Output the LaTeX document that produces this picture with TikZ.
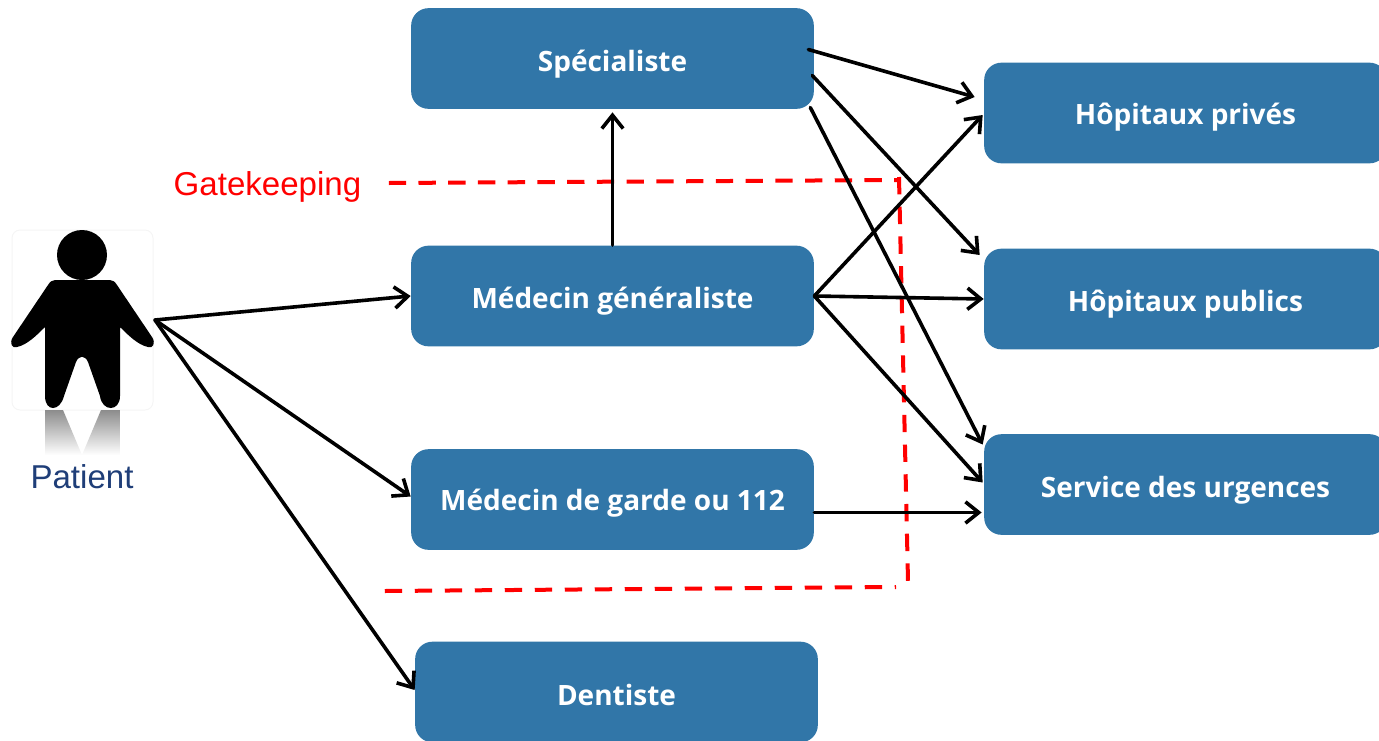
\documentclass[tikz,border=0pt]{standalone}
\usepackage{fontspec}
\setmainfont{Open Sans}
\newfontfamily\arialfont{Liberation Sans}
\usetikzlibrary{arrows.meta,calc}
\definecolor{mybox}{RGB}{49, 118, 168}
\definecolor{mylabel}{RGB}{31, 62, 120}
\tikzset{every picture/.style={line width=0.75pt}}
\tikzset{
  box/.style={fill=mybox, rounded corners=13pt, minimum width=302pt, minimum height=75.5pt, inner sep=0pt, text=white, text height=19pt, text depth=0pt, font=\fontsize{21}{25}\selectfont\bfseries},
  link/.style={-{Straight Barb[length=10pt,width=16pt,line width=2.7pt]}, line width=2.7pt, black, line cap=round},
  gate/.style={red, line width=3pt, dash pattern=on 13pt off 9.3pt}
}

\begin{document}
\begin{tikzpicture}[x=0.75pt,y=0.75pt,yscale=-1,xscale=1]
\useasboundingbox (0,0) rectangle (1379,740);

%Shape: Patient backing
\draw [black!4, line width=0.75pt, rounded corners=6pt] (12,230) rectangle (153,410);
%Shape: Patient reflection
\shade [top color=black!45, bottom color=white] (45,410) -- (63,410) -- (82,455) -- (101,410) -- (120,410) -- (120,455) -- (45,455) -- cycle ;
%Shape: Patient
\fill [black] (82,255) circle (25) ;
\fill [black] (55,280) -- (110,280) .. controls (113,280) and (115,282) .. (117,285) -- (152,337) .. controls (156,343) and (153,349) .. (148,347) .. controls (138,345) and (128,335) .. (120,327) -- (120,396) .. controls (120,412) and (102,412) .. (100,396) -- (88,362) .. controls (85,355) and (79,355) .. (76,362) -- (64,396) .. controls (60,412) and (45,412) .. (45,396) -- (45,327) .. controls (37,335) and (27,345) .. (17,347) .. controls (12,349) and (9,343) .. (13,337) -- (48,285) .. controls (50,282) and (52,280) .. (55,280) -- cycle ;

% Boxes
\node [box] (specialiste) at (612.5,58.5) {Spécialiste};
\node [box] (generaliste) at (612.5,296) {Médecin généraliste};
\node [box, text height=17pt] (garde) at (612.5,499.5) {Médecin de garde ou 112};
\node [box, text height=20pt] (dentiste) at (616.5,692) {Dentiste};
\node [box, text height=17pt] (prives) at (1185.5,113) {Hôpitaux privés};
\node [box] (publics) at (1185.5,299) {Hôpitaux publics};
\node [box] (urgences) at (1185.5,484.5) {Service des urgences};

% Text Node
\node [font=\arialfont\fontsize{24.8}{30}\selectfont, text=mylabel, inner sep=0pt] (patient) at (82,477) {Patient};
% Text Node
\node [font=\arialfont\fontsize{24.8}{30}\selectfont, text=red, inner sep=0pt] (gatekeeping) at (267.5,187) {Gatekeeping};

\coordinate (patientarm) at (155,320);

%Dashed lines
\draw [gate] ($(gatekeeping.east)+(27,-4)$) -- (899,180) ;
\draw [gate] (899,177) -- (908,581) ;
\draw [gate, dash pattern=on 13pt off 9.5pt] ($(gatekeeping.east)+(23,404)$) -- (896,587) ;

%Straight Lines
\draw [link] (patientarm) -- ($(generaliste.west)+(0,0)$) ;
\draw [link] (patientarm) -- ($(garde.west)+(0,-3)$) ;
\draw [link] (patientarm) -- ($(dentiste.west)+(0,-2)$) ;
\draw [link] (generaliste.north) -- ($(specialiste.south)+(0,3)$) ;
\draw [link] ($(specialiste.east)+(-6,-9)$) -- ($(prives.west)+(-9,-16)$) ;
\draw [link] ($(specialiste.east)+(-2,17)$) -- ($(publics.west)+(-4,-44)$) ;
\draw [link] ($(specialiste.east)+(-4,49)$) -- ($(urgences.west)+(-1,-40)$) ;
\draw [link] (generaliste.east) -- ($(prives.west)+(-1,2)$) ;
\draw [link] (generaliste.east) -- (publics.west) ;
\draw [link] (generaliste.east) -- ($(urgences.west)+(-1,-2)$) ;
\draw [link] ($(garde.east)+(0,13)$) -- ($(urgences.west)+(-2,28)$) ;

\end{tikzpicture}
\end{document}
